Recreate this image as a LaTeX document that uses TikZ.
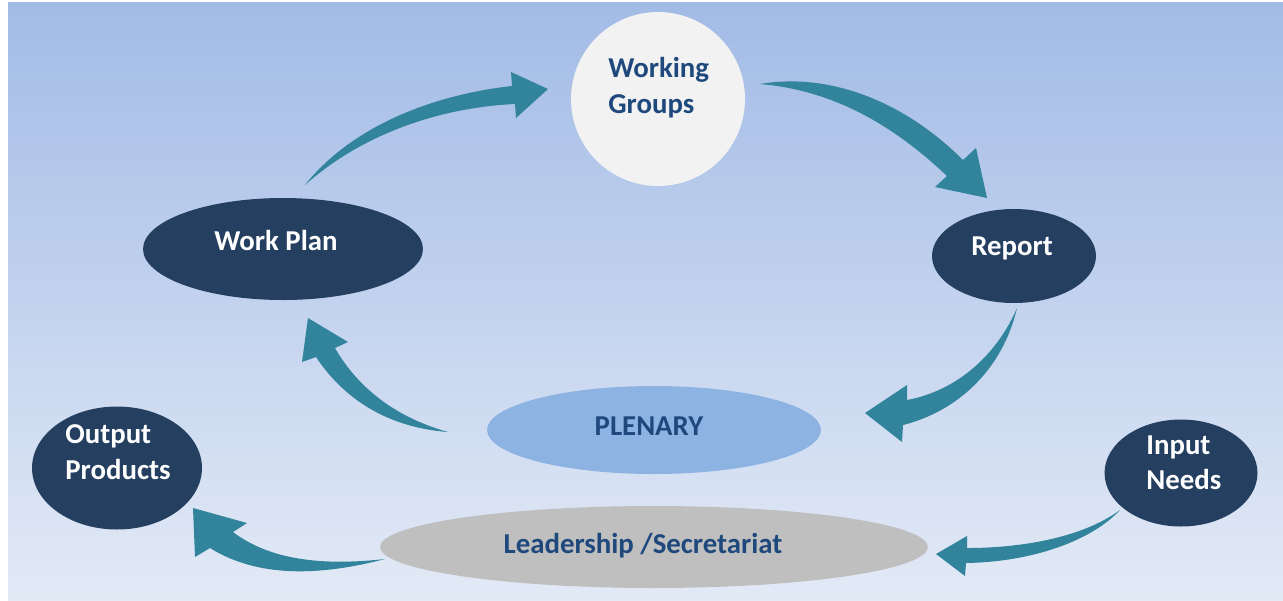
\documentclass[tikz,border=0pt]{standalone}
\usepackage{fontspec}
\setmainfont{Carlito}
\usetikzlibrary{shapes.geometric}
\definecolor{bgtop}{RGB}{162,187,230}
\definecolor{bgbot}{RGB}{227,234,246}
\definecolor{navy}{RGB}{36,63,96}
\definecolor{teal}{RGB}{49,132,155}
\definecolor{plen}{RGB}{141,179,226}
\definecolor{lead}{RGB}{191,191,191}
\definecolor{wgfill}{RGB}{242,242,242}
\definecolor{txtblue}{RGB}{31,73,125}
\tikzset{
  blob/.style={ellipse, draw=none, inner sep=0pt},
  navyblob/.style={blob, fill=navy},
  lbl/.style={inner sep=0pt, font=\bfseries\fontsize{16.4}{20}\selectfont},
  wlbl/.style={lbl, text=white},
  blbl/.style={lbl, text=txtblue},
  bigarrow/.style={fill=teal, draw=none}
}
\begin{document}
\begin{tikzpicture}[x=0.02cm, y=-0.02cm]
\useasboundingbox (0,0) rectangle (1283,600);
\shade[top color=bgtop, bottom color=bgbot] (8,2) rectangle (1283,600);

% shapes
\node[blob, fill=wgfill, minimum width=3.48cm, minimum height=3.48cm] (wg) at (658,99) {};
\node[navyblob, minimum width=5.6cm, minimum height=2.04cm] (wp) at (283,249) {};
\node[navyblob, minimum width=3.28cm, minimum height=1.88cm] (rep) at (1014,256) {};
\node[blob, fill=plen, minimum width=6.68cm, minimum height=1.76cm] (plenary) at (654,430) {};
\node[navyblob, minimum width=3.4cm, minimum height=2.46cm] (out) at (117,468) {};
\node[navyblob, minimum width=3.06cm, minimum height=2.14cm] (inp) at (1181,473) {};
\node[blob, fill=lead, minimum width=10.96cm, minimum height=1.64cm] (lead) at (654,547) {};

% labels
\node[blbl, anchor=base west] (wg1) at (608,77) {Working};
\node[blbl, anchor=base west] (wg2) at (608,113) {Groups};
\node[wlbl, anchor=base] (wpt) at (276,250) {Work Plan};
\node[wlbl, anchor=base] (rept) at (1012,255) {Report};
\node[blbl, anchor=base] (plent) at (649,435) {PLENARY};
\node[blbl, anchor=base] (leadt) at (643,553) {Leadership /Secretariat};
\node[wlbl, anchor=base west] (out1) at (65,443) {Output};
\node[wlbl, anchor=base west] (out2) at (65,479) {Products};
\node[wlbl, anchor=base west] (inp1) at (1146,454) {Input};
\node[wlbl, anchor=base west] (inp2) at (1146,489) {Needs};

% curved arrows
% Work Plan -> Working Groups
\fill[bigarrow] (305,185) .. controls (350,128) and (430,95) .. (512,86)
  -- (511,72) -- (548,89) -- (516,118) -- (515,104)
  .. controls (430,108) and (355,140) .. (305,185) -- cycle;
% Working Groups -> Report
\fill[bigarrow] (760,84) .. controls (830,72) and (905,102) .. (963,160)
  -- (976,148) -- (987,198) -- (935,187) -- (947,176)
  .. controls (890,122) and (830,90) .. (760,84) -- cycle;
% Report -> Plenary
\fill[bigarrow] (1017,308) .. controls (1002,372) and (955,412) .. (903,425)
  -- (902,442) -- (865,413) -- (907,385) -- (907,400)
  .. controls (960,390) and (998,352) .. (1017,308) -- cycle;
% Plenary -> Work Plan
\fill[bigarrow] (448,432) .. controls (395,428) and (348,405) .. (316,357)
  -- (302,362) -- (308,318) -- (348,342) -- (335,348)
  .. controls (362,395) and (405,420) .. (448,432) -- cycle;
% Leadership -> Output Products
\fill[bigarrow] (385,559) .. controls (320,576) and (258,578) .. (210,548)
  -- (195,557) -- (193,508) -- (247,523) -- (233,532)
  .. controls (270,560) and (322,566) .. (385,559) -- cycle;
% Input Needs -> Leadership
\fill[bigarrow] (1120,510) .. controls (1090,542) and (1030,562) .. (966,563)
  -- (965,576) -- (936,554) -- (967,536) -- (967,548)
  .. controls (1020,548) and (1082,538) .. (1120,510) -- cycle;
\end{tikzpicture}
\end{document}
